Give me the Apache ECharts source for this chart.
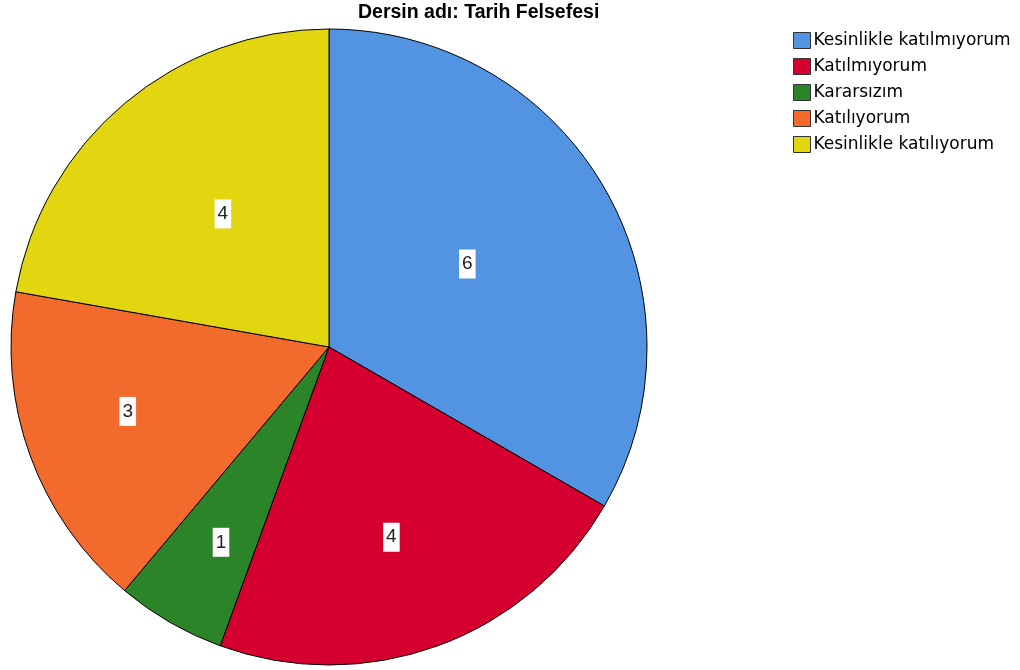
<!DOCTYPE html>
<html>
<head>
<meta charset="utf-8">
<script src="https://cdn.jsdelivr.net/npm/echarts@6/dist/echarts.min.js"></script>
<style>
html,body{margin:0;padding:0;background:#fff;}
#chart{width:1020px;height:670px;}
</style>
</head>
<body>
<div id="chart"></div>
<script>
// kategoriler ve değerler
const categories = ['Kesinlikle katılmıyorum', 'Katılmıyorum', 'Kararsızım', 'Katılıyorum', 'Kesinlikle katılıyorum'];
const counts = [6, 4, 1, 3, 4];
const colors = ['#5294e2', '#d5002f', '#2b8428', '#f26b2d', '#e2d610'];
// SPSS etiketleri dilimin ortasına tam oturmuyor, biraz kaydır
const labelShift = [[-2, -2], [7, 38], [-27, 55], [-49, 9], [-2, -9]];

const chart = echarts.init(document.getElementById('chart'));

const option = {
	animation: false,
	title: {
		text: 'Dersin adı: Tarih Felsefesi',
		left: 358,
		top: 3,
		padding: 0,
		textStyle: {
			fontFamily: 'Liberation Sans, Arial, sans-serif',
			fontSize: 19.5,
			fontWeight: 'bold',
			color: '#000'
		}
	},
	legend: {
		orient: 'vertical',
		left: 793,
		top: 32,
		padding: 0,
		itemWidth: 17,
		itemHeight: 16,
		itemGap: 9,
		icon: 'rect',
		data: categories,
		textStyle: {
			fontFamily: 'DejaVu Sans, sans-serif',
			fontSize: 17,
			lineHeight: 16,
			color: '#000',
			padding: [0, 0, 0, -2]
		},
		itemStyle: {
			borderColor: '#333',
			borderWidth: 1
		}
	},
	series: [{
		type: 'pie',
		center: [329, 347],
		radius: 318,
		startAngle: 90,
		clockwise: true,
		label: {
			position: 'inside',
			formatter: '{c}',
			backgroundColor: '#fff',
			padding: [5, 3],
			fontSize: 19,
			fontFamily: 'Liberation Sans, Arial, sans-serif',
			color: '#222'
		},
		labelLine: { show: false },
		itemStyle: {
			borderColor: '#000',
			borderWidth: 1
		},
		emphasis: { disabled: true },
		data: categories.map((name, i) => ({
			name: name,
			value: counts[i],
			itemStyle: { color: colors[i] },
			label: { offset: labelShift[i] }
		}))
	}]
};

chart.setOption(option);
</script>
</body>
</html>
